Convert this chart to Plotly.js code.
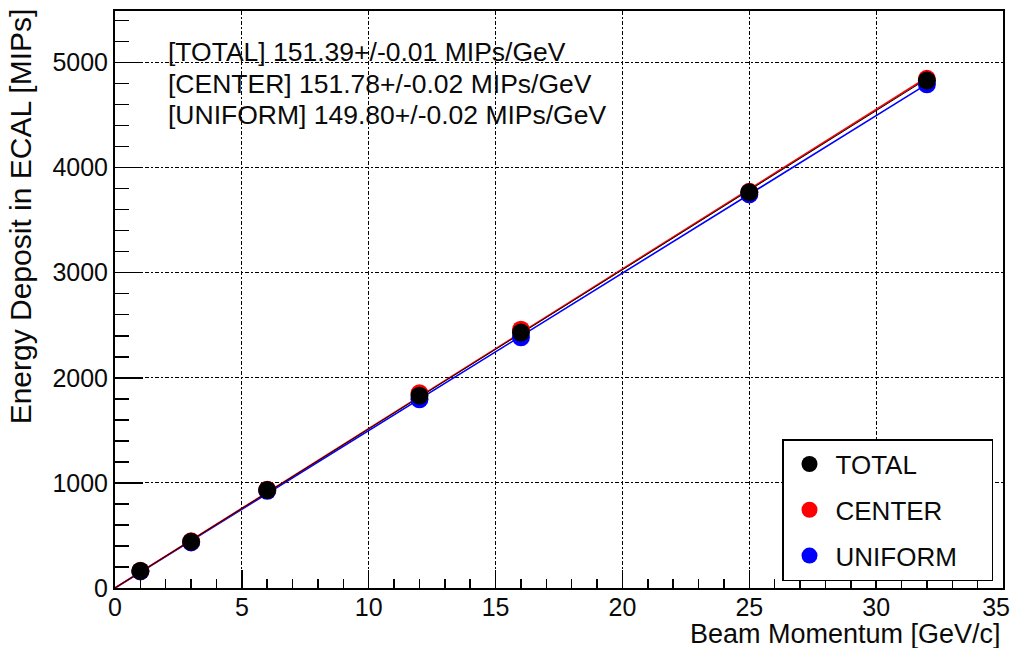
<!DOCTYPE html>
<html>
<head>
<meta charset="utf-8">
<script src="https://cdn.plot.ly/plotly-3.0.1.min.js"></script>
<style>
html,body{margin:0;padding:0;background:#fff;}
#chart{width:1014px;height:648px;}
</style>
</head>
<body>
<div id="chart"></div>
<script>
// Beam momenta [GeV/c]
const momentum = [1, 3, 6, 12, 16, 25, 32];
// Energy deposit in ECAL [MIPs]
const totalDeposit   = [162, 440, 932, 1830, 2430, 3765, 4828];
const centerDeposit  = [164, 444, 936, 1852, 2458, 3770, 4845];
const uniformDeposit = [158, 434, 925, 1795, 2385, 3745, 4792];
// Linear fit lines (end points)
const fitX        = [0, 32];
const fitTotal    = [0, 4844];
const fitCenter   = [0, 4857];
const fitUniform  = [0, 4794];
// Tick labels
const xTickVals   = [0, 5, 10, 15, 20, 25, 30, 35];
const xTickLabels = ['0', '5', '10', '15', '20', '25', '30', '35\u00a0\u00a0'];
// Labels
const seriesNames = ['TOTAL', 'CENTER', 'UNIFORM'];
const fitLabels = [
  '[TOTAL] 151.39+/-0.01 MIPs/GeV',
  '[CENTER] 151.78+/-0.02 MIPs/GeV',
  '[UNIFORM] 149.80+/-0.02 MIPs/GeV'
];
const xTitle = 'Beam Momentum [GeV/c]';
const yTitle = 'Energy Deposit in ECAL [MIPs]';

const FONT = 'Liberation Sans, Arial, Helvetica, sans-serif';
const TXT = '#0a0a0a';
const PAD = '\u00a0\u00a0\u00a0\u00a0';

const traces = [
  {x: fitX, y: fitUniform, mode: 'lines', line: {color: '#0000ff', width: 1.6}, showlegend: false, hoverinfo: 'skip'},
  {x: fitX, y: fitCenter, mode: 'lines', line: {color: '#ff0000', width: 1.6}, showlegend: false, hoverinfo: 'skip'},
  {x: fitX, y: fitTotal, mode: 'lines', line: {color: '#000000', width: 1}, showlegend: false, hoverinfo: 'skip'},
  {x: momentum, y: uniformDeposit, mode: 'markers', name: seriesNames[2] + PAD, legendgroup: 'c', legendrank: 3,
   marker: {color: '#0000ff', size: 18}},
  {x: momentum, y: centerDeposit, mode: 'markers', name: seriesNames[1] + PAD, legendgroup: 'b', legendrank: 2,
   marker: {color: '#ff0000', size: 18}},
  {x: momentum, y: totalDeposit, mode: 'markers', name: seriesNames[0] + PAD, legendgroup: 'a', legendrank: 1,
   marker: {color: '#000000', size: 18}}
];

const ann = [];
const labelY = [0.929, 0.8735, 0.8198];
for (let i = 0; i < fitLabels.length; i++) {
  ann.push({text: fitLabels[i], xref: 'paper', yref: 'paper', x: 0.057, y: labelY[i],
            xanchor: 'left', yanchor: 'middle', showarrow: false,
            font: {family: FONT, size: 26.5, color: TXT}});
}
ann.push({text: xTitle, xref: 'paper', yref: 'paper', x: 1.0, y: -0.079, xanchor: 'right', yanchor: 'middle',
          showarrow: false, font: {family: FONT, size: 27, color: TXT}});
ann.push({text: yTitle, xref: 'paper', yref: 'paper', x: -0.107, y: 1.008, xanchor: 'center', yanchor: 'top',
          textangle: -90, showarrow: false, font: {family: FONT, size: 30, color: TXT}});

const layout = {
  width: 1014, height: 648,
  margin: {l: 115, r: 11, t: 11, b: 60, pad: 0, autoexpand: false},
  paper_bgcolor: '#fff', plot_bgcolor: '#fff',
  font: {family: FONT, size: 25, color: TXT},
  showlegend: true,
  legend: {x: (993 - 115) / 888, xanchor: 'right', y: 0.012, yanchor: 'bottom', bgcolor: '#fff',
           bordercolor: '#000', borderwidth: 1.5, font: {family: FONT, size: 26, color: TXT},
           tracegroupgap: 9, traceorder: 'grouped', itemwidth: 42},
  xaxis: {
    range: [0, 35], tickmode: 'array', tickvals: xTickVals, ticktext: xTickLabels, automargin: false,
    showline: true, linecolor: '#000', linewidth: 2, mirror: true,
    ticks: 'inside', ticklen: 18, tickwidth: 1.5, tickcolor: '#000',
    showgrid: true, gridcolor: '#000', gridwidth: 1, griddash: '4px,2px,2px,2px',
    zeroline: false, tickfont: {family: FONT, size: 25, color: TXT},
    ticklabeloverflow: 'allow', ticklabelstandoff: -4,
    minor: {dtick: 1, ticks: 'inside', ticklen: 9, tickwidth: 1.5, tickcolor: '#000', showgrid: false}
  },
  yaxis: {
    range: [0, 5490], dtick: 1000, tick0: 0, automargin: false,
    showline: true, linecolor: '#000', linewidth: 2, mirror: true,
    ticks: 'inside', ticklen: 28, tickwidth: 1.5, tickcolor: '#000',
    showgrid: true, gridcolor: '#000', gridwidth: 1, griddash: '4px,2px,2px,2px',
    zeroline: false, tickfont: {family: FONT, size: 25, color: TXT},
    ticklabeloverflow: 'allow',
    minor: {dtick: 200, ticks: 'inside', ticklen: 14, tickwidth: 1.5, tickcolor: '#000', showgrid: false}
  },
  annotations: ann
};

Plotly.newPlot('chart', traces, layout, {displayModeBar: false, staticPlot: true});
</script>
</body>
</html>
